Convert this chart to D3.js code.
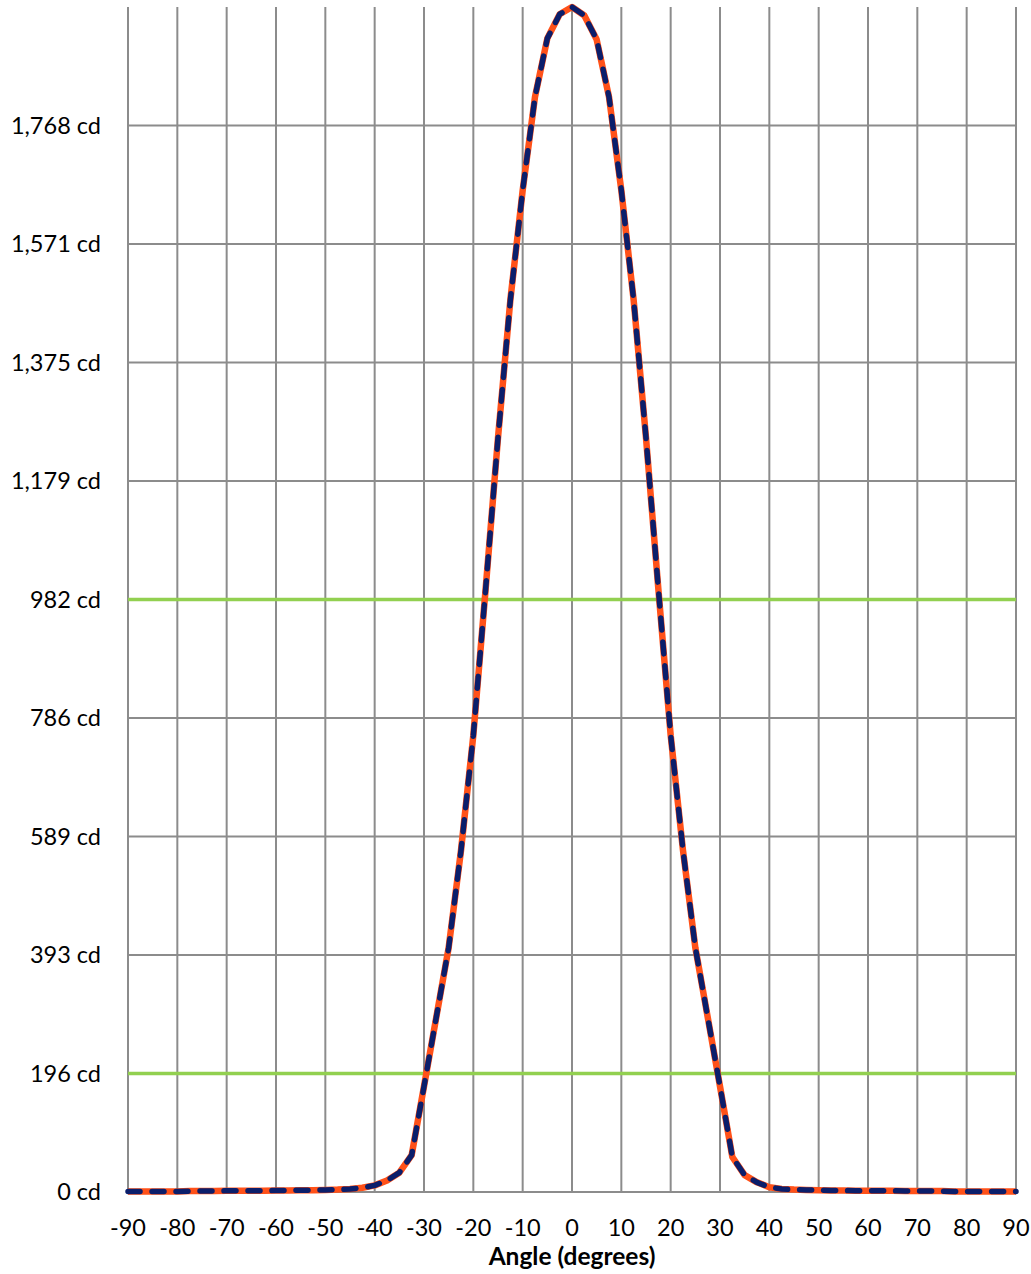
<!DOCTYPE html>
<html>
<head>
<meta charset="utf-8">
<script src="https://cdn.jsdelivr.net/npm/d3@7"></script>
<style>
  html, body { margin: 0; padding: 0; background: #fff; }
  svg { display: block; }
  text { font-family: Lato, "Open Sans", sans-serif; fill: #000; }
</style>
</head>
<body>
<svg id="chart" width="1031" height="1274"></svg>
<script>
// ---- data ----
const angles = [-90,-87.5,-85,-82.5,-80,-77.5,-75,-72.5,-70,-67.5,-65,-62.5,-60,-57.5,-55,-52.5,-50,-47.5,-45,-42.5,-40,-37.5,-35,-32.5,-30,-27.5,-25,-22.5,-20,-17.5,-15,-12.5,-10,-7.5,-5,-2.5,0,2.5,5,7.5,10,12.5,15,17.5,20,22.5,25,27.5,30,32.5,35,37.5,40,42.5,45,47.5,50,52.5,55,57.5,60,62.5,65,67.5,70,72.5,75,77.5,80,82.5,85,87.5,90];
const measured = [1,1,1,1,1,1.5,1.5,1.5,2,2,2,2,2.5,2.5,3,3,3.5,4,5,7,11,19,32,61,175,290,405,566,757,1000,1250,1478,1660,1815,1912,1952,1964,1950,1910,1815,1660,1478,1250,1000,757,566,405,290,175,58,28,16,8,5,4,3.5,3,2.5,2.5,2,2,2,2,1.5,1.5,1.5,1.5,1,1,1,1,1,1];
const reference = [1,1,1,1,1,1.5,1.5,1.5,2,2,2,2,2.5,2.5,3,3,3.5,4,5,7,11,19,32,61,175,290,405,566,757,1000,1250,1478,1660,1815,1912,1952,1964,1950,1910,1815,1660,1478,1250,1000,757,566,405,290,175,58,28,16,8,5,4,3.5,3,2.5,2.5,2,2,2,2,1.5,1.5,1.5,1.5,1,1,1,1,1,1];
const yTickValues = [0,196.4,392.8,589.2,785.6,982,1178.4,1374.8,1571.2,1767.6];
const yTickLabels = ["0 cd","196 cd","393 cd","589 cd","786 cd","982 cd","1,179 cd","1,375 cd","1,571 cd","1,768 cd"];
const xTickValues = [-90,-80,-70,-60,-50,-40,-30,-20,-10,0,10,20,30,40,50,60,70,80,90];
const thresholds = [982, 196.4];
const yMax = 1964;
const xTitle = "Angle (degrees)";

// ---- layout ----
const L = 128, R = 1016, T = 7, B = 1192;
const svg = d3.select("#chart");
const x = d3.scaleLinear().domain([-90, 90]).range([L, R]);
const y = d3.scaleLinear().domain([0, yMax]).range([B, T]);
const gridColor = "#8c8c8c";

// vertical grid
svg.append("g").selectAll("line").data(xTickValues).join("line")
  .attr("x1", d => x(d)).attr("x2", d => x(d))
  .attr("y1", T).attr("y2", B)
  .attr("stroke", gridColor).attr("stroke-width", 2);

// horizontal grid
svg.append("g").selectAll("line").data(yTickValues).join("line")
  .attr("x1", L).attr("x2", R)
  .attr("y1", d => y(d)).attr("y2", d => y(d))
  .attr("stroke", gridColor).attr("stroke-width", 2);

// threshold lines
svg.append("g").selectAll("line").data(thresholds).join("line")
  .attr("x1", L).attr("x2", R)
  .attr("y1", d => y(d)).attr("y2", d => y(d))
  .attr("stroke", "#92D050").attr("stroke-width", 3.5);

// y axis labels
svg.append("g").selectAll("text").data(yTickValues).join("text")
  .attr("x", 101).attr("y", d => y(d)).attr("dy", "0.36em")
  .attr("text-anchor", "end").attr("font-size", 23.5)
  .text((d, i) => yTickLabels[i]);

// x axis labels
svg.append("g").selectAll("text").data(xTickValues).join("text")
  .attr("x", d => x(d)).attr("y", 1236)
  .attr("text-anchor", "middle").attr("font-size", 23.5)
  .text(d => d);

svg.append("text").attr("x", x(0)).attr("y", 1265)
  .attr("text-anchor", "middle").attr("font-size", 24.5).attr("font-weight", "bold")
  .text(xTitle);

// series
const line = d3.line().x(d => x(d[0])).y(d => y(d[1]));
svg.append("path").datum(angles.map((a, i) => [a, reference[i]]))
  .attr("d", line).attr("fill", "none")
  .attr("stroke", "#FF5119").attr("stroke-width", 6.5).attr("stroke-linejoin", "round");
svg.append("path").datum(angles.map((a, i) => [a, measured[i]]))
  .attr("d", line).attr("fill", "none")
  .attr("stroke", "#0B1E6B").attr("stroke-width", 5.5)
  .attr("stroke-dasharray", "12 12").attr("stroke-linecap", "round").attr("stroke-linejoin", "round");
</script>
</body>
</html>
